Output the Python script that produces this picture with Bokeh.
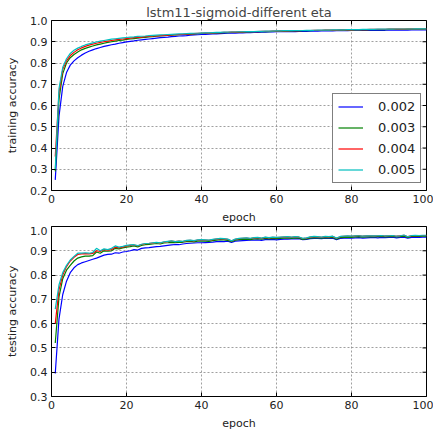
import math
from bokeh.plotting import figure
from bokeh.layouts import column
from bokeh.models import (Legend, LegendItem, FixedTicker, PrintfTickFormatter, Range1d)
from bokeh.embed import file_html
from bokeh.resources import INLINE

epochs = list(range(1, 101))
etas = ["0.002", "0.003", "0.004", "0.005"]
colors = ["#0000ff", "#008000", "#ff0000", "#00bfbf"]

train_002 = [.25, .55, .69, .755, .79, .81, .825, .837, .847, .855,
             .862, .868, .873, .878, .882, .886, .889, .893, .896, .899,
             .902, .904, .907, .909, .911, .913, .915, .917, .919, .921,
             .922, .924, .925, .927, .928, .929, .931, .932, .933, .934,
             .935, .936, .937, .937, .938, .939, .940, .940, .941, .942,
             .942, .943, .943, .944, .944, .945, .945, .946, .946, .947,
             .947, .947, .948, .948, .948, .949, .949, .949, .950, .950,
             .950, .951, .951, .951, .951, .952, .952, .952, .952, .953,
             .953, .953, .953, .953, .954, .954, .954, .954, .954, .955,
             .955, .955, .955, .955, .955, .956, .956, .956, .956, .956]
train_003 = [.29, .63, .75, .80, .825, .84, .852, .862, .869, .875,
             .880, .885, .889, .893, .897, .900, .903, .906, .908, .911,
             .913, .915, .917, .919, .921, .923, .924, .926, .927, .929,
             .930, .931, .932, .933, .934, .935, .936, .937, .938, .939,
             .940, .940, .941, .942, .942, .943, .943, .944, .944, .945,
             .945, .946, .946, .947, .947, .948, .948, .948, .949, .949,
             .950, .950, .950, .951, .951, .951, .952, .952, .952, .953,
             .953, .953, .954, .954, .954, .954, .955, .955, .955, .955,
             .956, .956, .956, .956, .957, .957, .957, .957, .957, .958,
             .958, .958, .958, .958, .959, .959, .959, .959, .959, .960]
train_004 = [.36, .66, .77, .81, .835, .85, .862, .871, .878, .884,
             .889, .893, .897, .900, .903, .906, .909, .911, .913, .915,
             .917, .919, .921, .922, .924, .925, .927, .928, .929, .930,
             .931, .932, .933, .934, .935, .936, .937, .938, .939, .940,
             .941, .941, .942, .943, .943, .944, .944, .945, .945, .946,
             .946, .947, .947, .948, .948, .949, .949, .949, .950, .950,
             .951, .951, .951, .952, .952, .952, .953, .953, .953, .954,
             .954, .954, .955, .955, .955, .955, .956, .956, .956, .956,
             .957, .957, .957, .957, .958, .958, .958, .958, .958, .959,
             .959, .959, .959, .959, .960, .960, .960, .960, .960, .961]
train_005 = [.30, .68, .78, .82, .845, .86, .87, .878, .885, .89,
             .895, .899, .903, .906, .909, .912, .914, .916, .918, .920,
             .922, .923, .925, .926, .927, .929, .930, .931, .932, .933,
             .934, .935, .936, .937, .937, .938, .939, .940, .940, .941,
             .942, .942, .943, .944, .944, .945, .945, .946, .946, .947,
             .947, .948, .948, .948, .949, .949, .950, .950, .950, .951,
             .951, .952, .952, .952, .953, .953, .953, .954, .954, .954,
             .955, .955, .955, .955, .956, .956, .956, .956, .957, .957,
             .957, .957, .958, .958, .958, .958, .959, .959, .959, .959,
             .959, .960, .960, .960, .960, .960, .961, .961, .961, .961]

test_002 = [.395, .62, .72, .775, .81, .83, .843, .85, .855, .86,
            .865, .87, .876, .882, .885, .886, .892, .89, .895, .897,
            .90, .905, .903, .91, .912, .913, .915, .917, .918, .92,
            .922, .924, .926, .925, .928, .93, .931, .932, .933, .933,
            .934, .935, .936, .938, .939, .938, .94, .934, .94, .941,
            .942, .943, .944, .944, .945, .943, .946, .946, .947, .945,
            .947, .948, .948, .949, .949, .95, .946, .947, .95, .951,
            .951, .95, .952, .951, .952, .946, .951, .952, .953, .952,
            .953, .954, .952, .953, .954, .955, .953, .955, .954, .955,
            .956, .953, .955, .956, .952, .955, .956, .955, .956, .956]
test_003 = [.52, .71, .785, .82, .84, .858, .87, .875, .878, .878,
            .88, .895, .89, .90, .898, .90, .91, .908, .912, .915,
            .917, .92, .916, .922, .925, .926, .928, .93, .928, .932,
            .933, .935, .934, .936, .935, .938, .939, .937, .94, .941,
            .94, .939, .942, .944, .946, .945, .943, .937, .944, .946,
            .947, .948, .946, .949, .95, .948, .951, .949, .951, .95,
            .951, .952, .953, .951, .953, .952, .947, .949, .952, .954,
            .953, .952, .954, .953, .955, .948, .954, .955, .956, .955,
            .957, .958, .956, .957, .958, .957, .958, .959, .957, .958,
            .959, .957, .958, .96, .955, .959, .96, .959, .96, .96]
test_004 = [.60, .74, .80, .835, .858, .873, .885, .887, .888, .887,
            .889, .90, .897, .905, .903, .905, .915, .912, .915, .92,
            .922, .924, .92, .926, .929, .93, .932, .934, .932, .936,
            .938, .94, .938, .94, .938, .942, .943, .941, .944, .945,
            .944, .943, .946, .948, .95, .949, .947, .94, .947, .95,
            .951, .952, .95, .953, .954, .951, .955, .953, .955, .954,
            .955, .956, .957, .955, .957, .956, .95, .952, .956, .958,
            .957, .955, .958, .957, .959, .951, .958, .959, .96, .959,
            .962, .963, .96, .961, .962, .961, .962, .963, .961, .962,
            .963, .96, .962, .964, .958, .962, .963, .962, .963, .963]
test_005 = [.66, .76, .81, .84, .862, .877, .89, .89, .892, .89,
            .893, .91, .90, .908, .905, .91, .92, .915, .918, .922,
            .924, .925, .921, .927, .93, .931, .933, .935, .933, .937,
            .939, .941, .938, .94, .939, .943, .944, .942, .945, .946,
            .945, .944, .947, .949, .951, .95, .948, .941, .948, .951,
            .952, .953, .951, .954, .955, .952, .956, .954, .956, .955,
            .956, .957, .958, .956, .958, .957, .951, .953, .957, .959,
            .958, .956, .959, .958, .96, .952, .959, .96, .961, .96,
            .962, .962, .96, .961, .962, .961, .962, .963, .961, .962,
            .963, .96, .962, .965, .958, .963, .964, .963, .964, .964]

train_series = [train_002, train_003, train_004, train_005]
test_series = [test_002, test_003, test_004, test_005]

x_ticks = [0, 20, 40, 60, 80, 100]
y_ticks_train = [0.2, 0.3, 0.4, 0.5, 0.6, 0.7, 0.8, 0.9, 1.0]
y_ticks_test = [0.3, 0.4, 0.5, 0.6, 0.7, 0.8, 0.9, 1.0]

FONT = "DejaVu Sans"


def style(p, yticks, ylabel, ymax, xmax):
    p.outline_line_color = "black"
    p.outline_line_width = 1
    p.background_fill_color = "white"
    p.border_fill_color = "white"
    for ax in (p.xaxis[0], p.yaxis[0]):
        ax.major_tick_in = 4
        ax.major_tick_out = 0
        ax.minor_tick_line_color = None
        ax.major_tick_line_color = "black"
        ax.axis_line_color = None
        ax.major_label_text_font = FONT
        ax.major_label_text_font_size = "11px"
        ax.major_label_text_color = "#222222"
        ax.axis_label_text_font = FONT
        ax.axis_label_text_font_size = "11px"
        ax.axis_label_text_font_style = "normal"
        ax.axis_label_text_color = "#222222"
        ax.major_label_standoff = 4
    p.xaxis[0].ticker = FixedTicker(ticks=x_ticks)
    p.yaxis[0].ticker = FixedTicker(ticks=yticks)
    p.yaxis[0].formatter = PrintfTickFormatter(format="%.1f")
    p.xaxis[0].axis_label = "epoch"
    p.yaxis[0].axis_label = ylabel
    p.xaxis[0].axis_label_standoff = 5
    p.yaxis[0].axis_label_standoff = 8
    p.xgrid.ticker = FixedTicker(ticks=x_ticks)
    p.ygrid.ticker = FixedTicker(ticks=yticks)
    for g in (p.xgrid[0], p.ygrid[0]):
        g.grid_line_color = "#888888"
        g.grid_line_alpha = 0.8
        g.grid_line_dash = "2 2"
        g.grid_line_width = 1
    # inside tick marks on the top and right frame edges (clipped to the frame)
    p.scatter(x_ticks, [ymax] * len(x_ticks), marker="dash", size=8, angle=math.pi / 2,
              line_color="black", line_width=1)
    p.scatter([xmax] * len(yticks), yticks, marker="dash", size=8, angle=0,
              line_color="black", line_width=1)


p1 = figure(width=433, height=226, x_range=Range1d(0, 100), y_range=Range1d(0.2, 1.0),
            output_backend="svg", toolbar_location=None,
            min_border_left=51, min_border_right=7, min_border_top=20, min_border_bottom=35)
p1.title.text = "lstm11-sigmoid-different eta"
p1.title.text_font = FONT
p1.title.text_font_size = "13px"
p1.title.text_font_style = "normal"
p1.title.align = "center"
p1.title.standoff = 2
style(p1, y_ticks_train, "training accuracy", 1.0, 100)

renderers = []
for ys, c in zip(train_series, colors):
    r = p1.line(epochs, ys, line_color=c, line_width=1.2)
    renderers.append(r)

legend = Legend(items=[LegendItem(label=lab, renderers=[r]) for lab, r in zip(etas, renderers)],
                location=(281, 7), label_text_font=FONT, label_text_font_size="13px",
                label_text_color="#222222",
                glyph_width=25, glyph_height=15, label_height=15, spacing=6, padding=5,
                label_standoff=15, border_line_color="black", border_line_width=1,
                background_fill_color="white", background_fill_alpha=1.0, margin=0)
p1.add_layout(legend, "center")

p2 = figure(width=433, height=207, x_range=Range1d(0, 100), y_range=Range1d(0.3, 1.0),
            output_backend="svg", toolbar_location=None,
            min_border_left=51, min_border_right=7, min_border_top=0, min_border_bottom=37)
p2.title = None
style(p2, y_ticks_test, "testing accuracy", 1.0, 100)
for ys, c in zip(test_series, colors):
    p2.line(epochs, ys, line_color=c, line_width=1.2)

layout = column(p1, p2, spacing=0)
open("out.html", "w").write(file_html(layout, INLINE))
